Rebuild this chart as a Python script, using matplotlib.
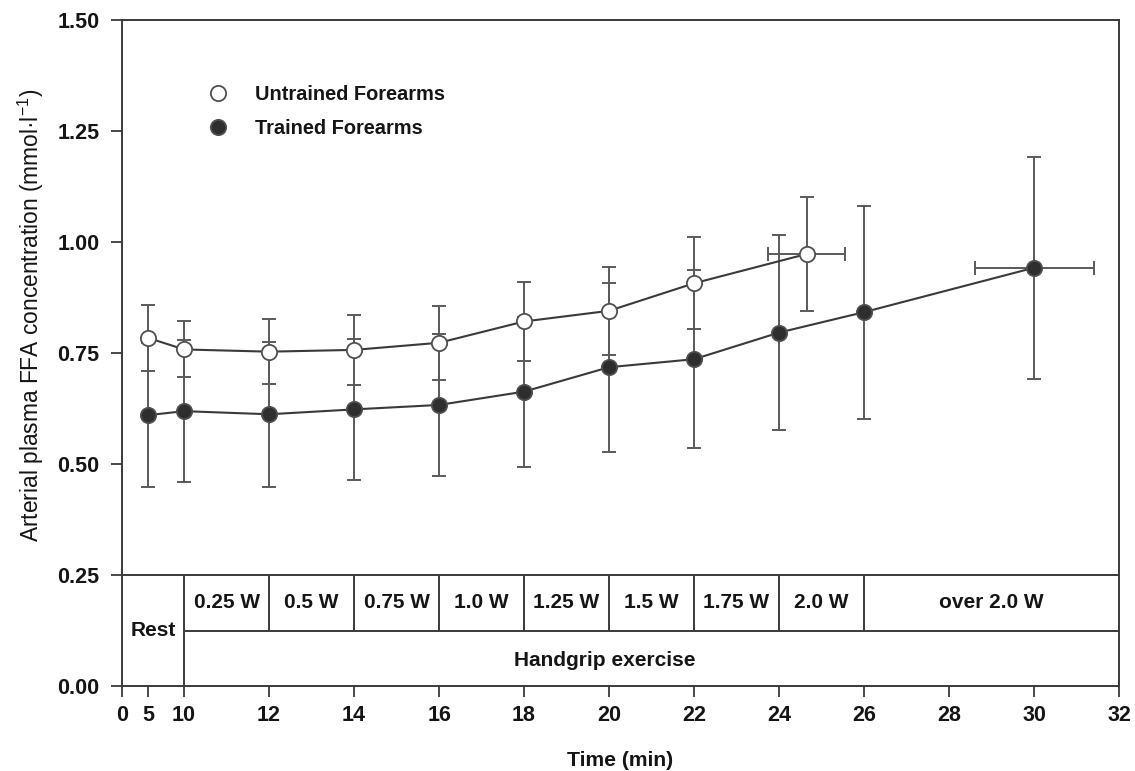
import numpy as np
import matplotlib
matplotlib.use("Agg")
import matplotlib.pyplot as plt
from matplotlib.lines import Line2D

plt.rcParams['font.family'] = ['Liberation Sans', 'DejaVu Sans']
plt.rcParams['mathtext.fontset'] = 'custom'
plt.rcParams['mathtext.rm'] = 'Liberation Sans'
plt.rcParams['mathtext.it'] = 'Liberation Sans'

# ---------------- data ----------------
untrained_t = [5, 10, 12, 14, 16, 18, 20, 22, 24.65]
untrained_v = [0.784, 0.758, 0.753, 0.757, 0.773, 0.821, 0.845, 0.907, 0.973]
untrained_err = [0.074, 0.063, 0.073, 0.079, 0.083, 0.088, 0.099, 0.104, 0.129]
untrained_xerr = [0, 0, 0, 0, 0, 0, 0, 0, 0.9]

trained_t = [5, 10, 12, 14, 16, 18, 20, 22, 24, 26, 30]
trained_v = [0.610, 0.619, 0.612, 0.623, 0.633, 0.663, 0.718, 0.736, 0.796, 0.842, 0.942]
trained_err = [0.162, 0.160, 0.163, 0.159, 0.160, 0.169, 0.190, 0.200, 0.219, 0.240, 0.250]
trained_xerr = [0, 0, 0, 0, 0, 0, 0, 0, 0, 0, 1.4]

x_ticks = [0, 5, 10, 12, 14, 16, 18, 20, 22, 24, 26, 28, 30, 32]
y_ticks = [0.00, 0.25, 0.50, 0.75, 1.00, 1.25, 1.50]

stage_edges = [10, 12, 14, 16, 18, 20, 22, 24, 26, 32]
stage_labels = ['0.25 W', '0.5 W', '0.75 W', '1.0 W', '1.25 W', '1.5 W', '1.75 W', '2.0 W', 'over 2.0 W']

# broken (piecewise linear) time axis
_src = [0, 5, 10, 32]
_dst = [0, 26.4, 62.4, 997.4]
def fwd(x):
    return np.interp(x, _src, _dst)
def inv(y):
    return np.interp(y, _dst, _src)

LC = '#3a3a3a'
EC = '#5a5a5a'
TC = '#151515'

fig = plt.figure(figsize=(11.35, 7.71), dpi=100)
ax = fig.add_axes([121.7/1135, 1 - 686/771, (1119-121.7)/1135, (686-20)/771])
ax.set_xscale('function', functions=(fwd, inv))
ax.set_xlim(0, 32)
ax.set_ylim(0, 1.5)

# series
def draw(t, v, e, xe, filled):
    t = np.array(t); v = np.array(v); e = np.array(e); xe = np.array(xe)
    ax.errorbar(t, v, yerr=e, fmt='none', ecolor=EC, elinewidth=1.4, capsize=5, capthick=1.4, zorder=2)
    m = xe > 0
    ax.errorbar(t[m], v[m], xerr=xe[m], fmt='none', ecolor=EC, elinewidth=1.4, capsize=5, capthick=1.4, zorder=2)
    ax.plot(t, v, '-', color=LC, lw=1.5, zorder=3)
    ax.plot(t, v, 'o', ms=11, mfc=('#2e2e2e' if filled else 'white'), mec='#505050', mew=1.3, zorder=4)

draw(untrained_t, untrained_v, untrained_err, untrained_xerr, False)
draw(trained_t, trained_v, trained_err, trained_xerr, True)

# protocol boxes
ax.hlines(0.25, 0, 32, color=LC, lw=1.4)
ax.hlines(0.125, 10, 32, color=LC, lw=1.4)
ax.vlines(10, 0, 0.25, color=LC, lw=1.4)
ax.vlines(stage_edges[1:-1], 0.125, 0.25, color=LC, lw=1.4)
for i, lab in enumerate(stage_labels):
    a, b = stage_edges[i], stage_edges[i+1]
    xc = inv((fwd(a) + fwd(b)) / 2)
    ax.text(xc, 0.188, lab, ha='center', va='center', fontsize=15, fontweight='bold', color=TC)
ax.text(inv((fwd(0) + fwd(10)) / 2), 0.124, 'Rest', ha='center', va='center', fontsize=15, fontweight='bold', color=TC)
ax.text(19.9, 0.058, 'Handgrip exercise', ha='center', va='center', fontsize=15, fontweight='bold', color=TC)

# axes styling
for s in ax.spines.values():
    s.set_color(LC)
    s.set_linewidth(1.4)
ax.set_xticks(x_ticks)
ax.set_xticklabels([str(t) for t in x_ticks])
ax.set_yticks(y_ticks)
ax.set_yticklabels(['%.2f' % y for y in y_ticks])
ax.tick_params(axis='both', direction='out', length=8, width=1.3, color=LC, labelsize=15.5, labelcolor=TC)
ax.tick_params(axis='x', pad=6)
ax.tick_params(axis='y', pad=8)
for lab in ax.get_xticklabels() + ax.get_yticklabels():
    lab.set_fontweight('bold')

ax.set_xlabel('Time (min)', fontsize=15.2, fontweight='bold', color=TC)
ax.xaxis.set_label_coords(0.5, -0.098)
ax.set_ylabel('Arterial plasma FFA concentration (mmol·l$^{-1}$)', fontsize=16.4, color=TC)
ax.yaxis.set_label_coords(-0.076, 0.556)

handles = [Line2D([], [], ls='none', marker='o', ms=11, mfc='white', mec='#505050', mew=1.3),
           Line2D([], [], ls='none', marker='o', ms=11, mfc='#2e2e2e', mec='#505050', mew=1.3)]
leg = ax.legend(handles, ['Untrained Forearms', 'Trained Forearms'], loc='upper left',
                bbox_to_anchor=(0.063, 0.93), frameon=False,
                prop={'size': 14.4, 'weight': 'bold'},
                handletextpad=1.1, labelspacing=0.75, handlelength=1.5)
for t in leg.get_texts():
    t.set_color(TC)

fig.savefig('out.png', dpi=100)
